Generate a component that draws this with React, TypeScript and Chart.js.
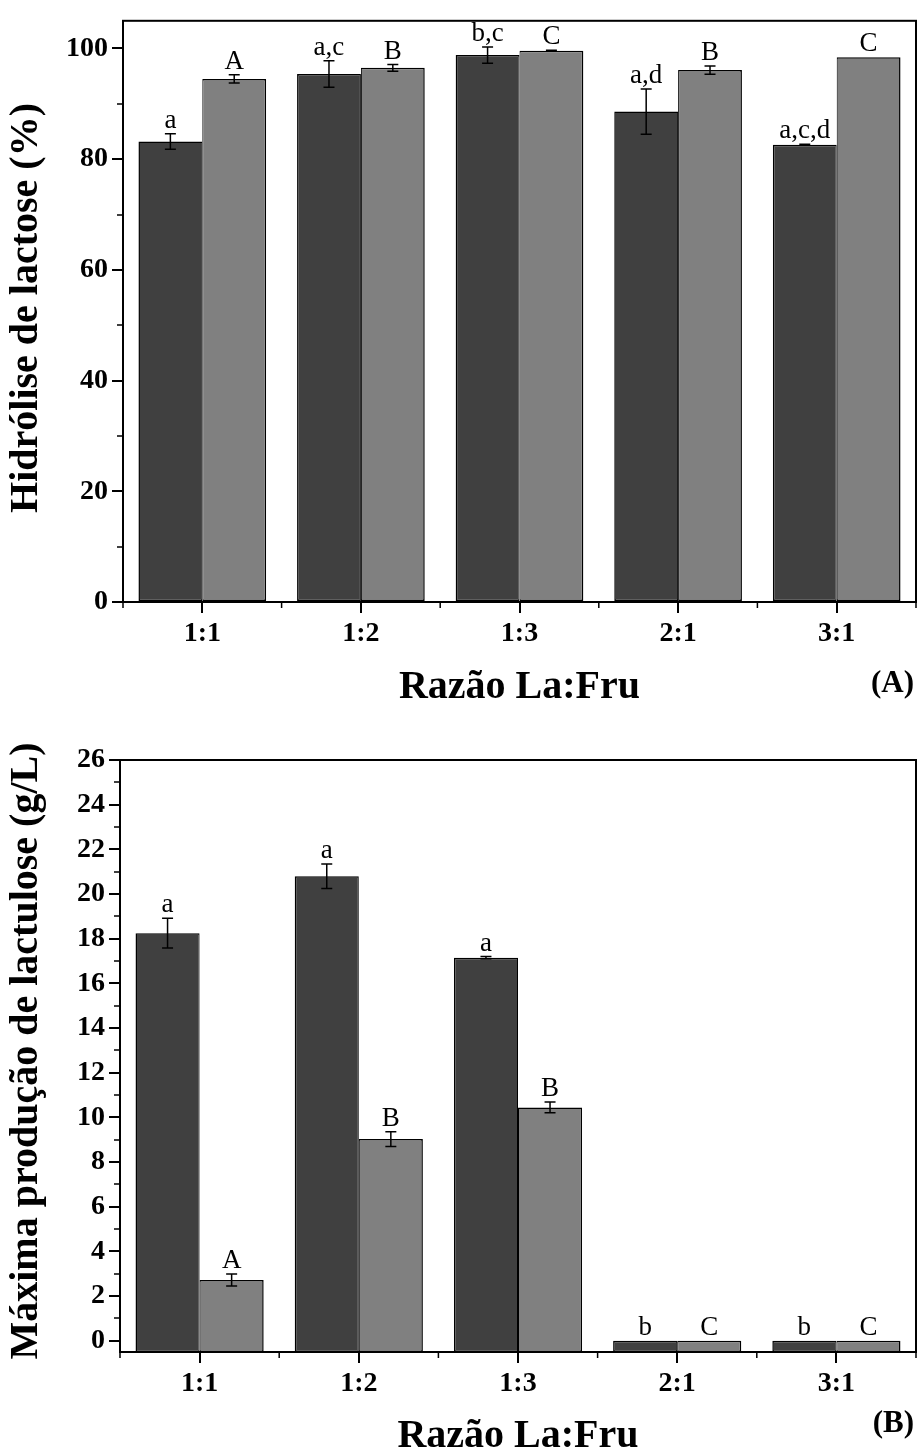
import React, { useEffect, useRef } from 'react';
import { Chart, registerables } from 'chart.js';

Chart.register(...registerables);

const FONT = "'Liberation Serif', 'Times New Roman', Times, serif";

const categories = ['1:1', '1:2', '1:3', '2:1', '3:1'];

// Panel A: lactose hydrolysis (%)
const hydrolysisDark = [83.2, 95.4, 98.8, 88.6, 82.6];
const hydrolysisDarkErr = [1.4, 2.4, 1.45, 4.1, 0.1];
const hydrolysisDarkLetters = ['a', 'a,c', 'b,c', 'a,d', 'a,c,d'];
const hydrolysisLight = [94.5, 96.5, 99.6, 96.1, 98.4];
const hydrolysisLightErr = [0.75, 0.6, 0.1, 0.75, 0];
const hydrolysisLightLetters = ['A', 'B', 'C', 'B', 'C'];

// Panel B: maximum lactulose production (g/L)
const lactuloseDark = [18.25, 20.8, 17.15, 0, 0];
const lactuloseDarkErr = [0.67, 0.55, 0.05, 0, 0];
const lactuloseDarkLetters = ['a', 'a', 'a', 'b', 'b'];
const lactuloseLight = [2.72, 9.03, 10.45, 0, 0];
const lactuloseLightErr = [0.27, 0.33, 0.24, 0, 0];
const lactuloseLightLetters = ['A', 'B', 'B', 'C', 'C'];

const yTicksA = { min: 0, max: 105, major: 20, minor: 10 };
const yTicksB = { min: -0.5, max: 26, major: 2, minor: 1 };

const DARK = '#404040';
const LIGHT = '#808080';

const decorPlugin = {
  id: 'decor',
  afterDatasetsDraw(chart: any, _args: any, opts: any) {
    const ctx = chart.ctx;
    const ys = chart.scales.y;
    ctx.save();
    chart.data.datasets.forEach((ds: any, i: number) => {
      const meta = chart.getDatasetMeta(i);
      const errs = opts.errors[i];
      const lets = opts.letters[i];
      meta.data.forEach((el: any, j: number) => {
        const v = ds.data[j];
        const e = errs[j];
        const cx = el.x;
        const yt = ys.getPixelForValue(v + e);
        const yb = ys.getPixelForValue(v - e);
        if (e > 0) {
          ctx.strokeStyle = '#000';
          ctx.lineWidth = 1.5;
          ctx.beginPath();
          ctx.moveTo(cx, yt);
          ctx.lineTo(cx, yb);
          ctx.moveTo(cx - 5.5, yt);
          ctx.lineTo(cx + 5.5, yt);
          ctx.moveTo(cx - 5.5, yb);
          ctx.lineTo(cx + 5.5, yb);
          ctx.stroke();
        }
        ctx.fillStyle = '#000';
        ctx.font = `27px ${FONT}`;
        ctx.textAlign = 'center';
        ctx.textBaseline = 'alphabetic';
        ctx.fillText(lets[j], cx, Math.min(yt, el.y) - 6);
      });
    });
    ctx.restore();
  },
  afterDraw(chart: any, _args: any, opts: any) {
    const ctx = chart.ctx;
    const ca = chart.chartArea;
    const ys = chart.scales.y;
    ctx.save();
    ctx.strokeStyle = '#000';
    ctx.lineWidth = 2;
    ctx.strokeRect(ca.left, ca.top, ca.right - ca.left, ca.bottom - ca.top);
    // minor y ticks
    ctx.lineWidth = 1.5;
    ctx.beginPath();
    const t = opts.ticks;
    for (let v = Math.ceil(t.min); v <= t.max; v += t.minor) {
      if (v % t.major === 0 || v < 0) continue;
      const py = Math.round(ys.getPixelForValue(v));
      ctx.moveTo(ca.left - 6, py);
      ctx.lineTo(ca.left, py);
    }
    // minor x ticks at category boundaries
    const n = categories.length;
    const w = (ca.right - ca.left) / n;
    for (let i = 0; i <= n; i++) {
      const px = ca.left + i * w;
      ctx.moveTo(px, ca.bottom);
      ctx.lineTo(px, ca.bottom + 6);
    }
    ctx.stroke();
    // y title
    ctx.fillStyle = '#000';
    ctx.font = `bold 40px ${FONT}`;
    ctx.textAlign = 'center';
    ctx.textBaseline = 'middle';
    ctx.save();
    ctx.translate(opts.yTitleX, opts.yTitleY);
    ctx.rotate(-Math.PI / 2);
    ctx.fillText(opts.yTitle, 0, 0);
    ctx.restore();
    // panel label
    ctx.font = `bold 31px ${FONT}`;
    ctx.textAlign = 'right';
    ctx.fillText(opts.panel, opts.panelX, opts.panelY);
    ctx.restore();
  },
};

type PanelProps = {
  width: number;
  height: number;
  top: number;
  areaLeft: number;
  areaTop: number;
  areaBottom: number;
  dark: number[];
  light: number[];
  darkErr: number[];
  lightErr: number[];
  darkLetters: string[];
  lightLetters: string[];
  ticks: { min: number; max: number; major: number; minor: number };
  base?: number;
  yTitle: string;
  yTitleY: number;
  panel: string;
  panelY: number;
  titlePad: number;
};

function Panel(p: PanelProps) {
  const ref = useRef<HTMLCanvasElement | null>(null);
  useEffect(() => {
    if (!ref.current) return;
    const tickFont = { family: FONT, size: 28, weight: 'bold' as const };
    const dsCommon: any = {
      borderColor: '#000',
      borderSkipped: false,
      categoryPercentage: 0.805,
      barPercentage: 1,
    };
    if (p.base !== undefined) dsCommon.base = p.base;
    const chart = new Chart(ref.current, {
      type: 'bar',
      data: {
        labels: categories,
        datasets: [
          { ...dsCommon, data: p.dark, backgroundColor: DARK, borderWidth: { top: 1.5, left: 1.5, bottom: 1.5, right: 1 } },
          { ...dsCommon, data: p.light, backgroundColor: LIGHT, borderWidth: { top: 1.5, left: 1, bottom: 1.5, right: 1.5 } },
        ],
      },
      options: {
        responsive: false,
        maintainAspectRatio: false,
        animation: false,
        events: [],
        layout: { padding: { top: p.areaTop, right: p.width - 916, left: 0, bottom: 0 } },
        plugins: {
          legend: { display: false },
          tooltip: { enabled: false },
          decor: {
            errors: [p.darkErr, p.lightErr],
            letters: [p.darkLetters, p.lightLetters],
            ticks: p.ticks,
            yTitle: p.yTitle,
            yTitleX: 27,
            yTitleY: p.yTitleY,
            panel: p.panel,
            panelX: 914,
            panelY: p.panelY,
          },
        } as any,
        scales: {
          x: {
            type: 'category',
            offset: true,
            grid: { display: true, offset: false, drawOnChartArea: false, drawTicks: true, tickLength: 11, lineWidth: 2, color: '#000' },
            border: { display: true, color: '#000', width: 2 },
            ticks: { font: tickFont, color: '#000', padding: 4, maxRotation: 0, autoSkip: false },
            title: {
              display: true,
              text: 'Razão La:Fru',
              color: '#000',
              font: { family: FONT, size: 40, weight: 'bold', lineHeight: 1 },
              padding: { top: 0, bottom: p.titlePad },
            },
            afterFit: (s: any) => {
              s.height = p.height - p.areaBottom;
            },
          },
          y: {
            type: 'linear',
            min: p.ticks.min,
            max: p.ticks.max,
            grid: { display: true, drawOnChartArea: false, drawTicks: true, tickLength: 11, lineWidth: 2, color: '#000' },
            border: { display: true, color: '#000', width: 2 },
            ticks: { stepSize: p.ticks.major, includeBounds: false, font: tickFont, color: '#000', padding: 4 },
            afterFit: (s: any) => {
              s.width = p.areaLeft;
            },
          },
        },
      },
      plugins: [decorPlugin as any],
    });
    return () => chart.destroy();
  }, []);
  return (
    <canvas
      ref={ref}
      width={p.width}
      height={p.height}
      style={{ position: 'absolute', left: 0, top: p.top, width: p.width, height: p.height, display: 'block' }}
    />
  );
}

export default function App() {
  return (
    <div style={{ position: 'absolute', left: 0, top: 0, width: 919, height: 1454, background: '#fff', overflow: 'hidden' }}>
      <Panel
        width={919}
        height={710}
        top={0}
        areaLeft={123}
        areaTop={14}
        areaBottom={602}
        dark={hydrolysisDark}
        light={hydrolysisLight}
        darkErr={hydrolysisDarkErr}
        lightErr={hydrolysisLightErr}
        darkLetters={hydrolysisDarkLetters}
        lightLetters={hydrolysisLightLetters}
        ticks={yTicksA}
        yTitle="Hidrólise de lactose (%)"
        yTitleY={308}
        panel="(A)"
        panelY={684}
        titlePad={2}
      />
      <Panel
        width={919}
        height={744}
        top={710}
        areaLeft={120}
        areaTop={50}
        areaBottom={642}
        dark={lactuloseDark}
        light={lactuloseLight}
        darkErr={lactuloseDarkErr}
        lightErr={lactuloseLightErr}
        darkLetters={lactuloseDarkLetters}
        lightLetters={lactuloseLightLetters}
        ticks={yTicksB}
        base={-0.5}
        yTitle="Máxima produção de lactulose (g/L)"
        yTitleY={341}
        panel="(B)"
        panelY={714}
        titlePad={-3}
      />
    </div>
  );
}
